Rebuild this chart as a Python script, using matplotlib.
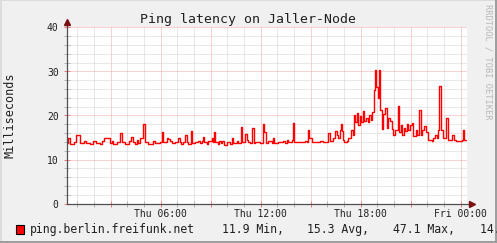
import matplotlib
matplotlib.use("Agg")
import matplotlib.pyplot as plt
from matplotlib.patches import Rectangle
from matplotlib.lines import Line2D

# ping latency, change points (hours since Thu 00:00) and values in ms
t_hours = [0.38, 0.44, 0.56, 0.80, 0.92, 1.16, 1.40, 1.52, 1.76, 1.94,
           2.12, 2.36, 2.48, 2.60, 2.96, 3.08, 3.14, 3.38, 3.56, 3.68,
           3.86, 4.10, 4.22, 4.34, 4.46, 4.58, 4.64, 4.76, 4.94, 5.06,
           5.24, 5.54, 5.66, 5.96, 6.08, 6.14, 6.38, 6.44, 6.56, 6.68,
           6.86, 7.02, 7.16, 7.22, 7.34, 7.46, 7.56, 7.64, 7.82, 7.90,
           8.06, 8.24, 8.36, 8.46, 8.54, 8.62, 8.76, 8.86, 9.06, 9.14,
           9.20, 9.26, 9.46, 9.52, 9.62, 9.70, 9.80, 9.96, 10.16, 10.26,
           10.36, 10.56, 10.66, 10.82, 10.90, 11.06, 11.16, 11.26, 11.36, 11.50,
           11.58, 11.66, 11.96, 12.12, 12.22, 12.30, 12.46, 12.66, 12.72, 12.82,
           13.06, 13.36, 13.46, 13.56, 13.66, 13.86, 13.92, 14.02, 14.66, 14.76,
           14.82, 14.92, 15.06, 15.56, 15.76, 15.96, 16.04, 16.13, 16.36, 16.46,
           16.56, 16.66, 16.76, 16.82, 16.88, 16.96, 17.00, 17.16, 17.26, 17.39,
           17.51, 17.57, 17.66, 17.76, 17.86, 17.96, 18.02, 18.12, 18.22, 18.32,
           18.42, 18.52, 18.60, 18.70, 18.80, 18.83, 18.92, 19.02, 19.08, 19.18,
           19.26, 19.36, 19.46, 19.56, 19.66, 19.76, 19.86, 19.96, 20.06, 20.24,
           20.32, 20.40, 20.50, 20.58, 20.66, 20.76, 20.86, 20.96, 21.06, 21.16,
           21.30, 21.40, 21.50, 21.60, 21.70, 21.82, 21.92, 22.02, 22.26, 22.36,
           22.46, 22.56, 22.66, 22.72, 22.82, 22.96, 23.10, 23.26, 23.50, 23.62,
           23.72, 23.86, 24.06, 24.14, 24.20, 24.30]
latency_ms = [13.8, 14.8, 13.6, 14.0, 15.5, 13.8, 14.1, 13.8, 13.5, 14.1,
              13.8, 13.5, 14.2, 14.8, 13.8, 14.2, 13.6, 14.0, 16.0, 14.0,
              13.6, 14.3, 15.2, 14.0, 13.5, 14.4, 13.8, 15.0, 18.1, 13.9,
              13.6, 14.2, 13.8, 14.0, 16.3, 14.0, 14.8, 14.6, 14.2, 13.8,
              14.0, 15.0, 14.0, 13.5, 14.0, 15.5, 14.0, 13.5, 16.5, 13.8,
              14.0, 14.2, 13.7, 14.2, 15.2, 14.0, 13.5, 14.3, 15.0, 14.0,
              16.3, 14.0, 13.6, 14.3, 13.8, 14.3, 13.3, 13.9, 13.5, 14.8,
              13.8, 14.2, 13.8, 17.3, 14.0, 15.7, 14.5, 14.0, 13.7, 17.1,
              13.8, 14.0, 13.8, 18.0, 16.2, 13.8, 14.3, 13.8, 15.0, 13.8,
              14.0, 14.2, 13.8, 14.4, 13.9, 14.4, 18.2, 13.9, 14.3, 13.9,
              16.6, 14.8, 13.9, 14.3, 13.9, 14.0, 16.0, 14.2, 15.0, 16.5,
              15.5, 15.0, 16.6, 18.0, 16.5, 14.5, 14.0, 14.3, 14.8, 16.7,
              15.6, 20.0, 18.5, 20.5, 17.8, 19.8, 18.5, 21.0, 18.8, 19.5,
              18.5, 20.0, 19.0, 20.7, 25.8, 30.4, 26.4, 23.9, 30.4, 21.2,
              17.0, 20.3, 21.7, 17.2, 19.5, 18.8, 17.0, 15.5, 16.6, 22.2,
              16.2, 17.8, 15.6, 17.1, 16.5, 18.0, 16.6, 17.8, 18.4, 15.4,
              16.6, 15.6, 21.3, 15.6, 16.6, 17.6, 16.2, 14.4, 14.2, 14.8,
              15.6, 14.8, 16.6, 26.7, 16.6, 14.9, 19.4, 14.4, 15.6, 14.4,
              14.1, 14.2, 14.4, 16.6, 14.4, 14.4]

x_major = [3, 6, 9, 12, 15, 18, 21, 24]
x_labels = ["", "Thu 06:00", "", "Thu 12:00", "", "Thu 18:00", "", "Fri 00:00"]
y_major = [0, 10, 20, 30, 40]
series_name = "ping.berlin.freifunk.net"
stat_values = [11.9, 15.3, 47.1, 14.4]
stat_names = ["Min,", "Avg,", "Max,", "Last"]

W, H = 497, 243
mono = "DejaVu Sans Mono"
plt.rcParams["font.family"] = mono

fig = plt.figure(figsize=(W / 100, H / 100), dpi=100, facecolor="#F0F0F0")


def fx(px):
    return px / W


def fy(py):
    return 1 - py / H


ax = fig.add_axes([fx(67), fy(203.5), 400 / W, 176 / H], facecolor="white")
ax.set_xlim(0.378, 24.378)
ax.set_ylim(0, 40)

ax.step(t_hours, latency_ms, where="post", color="#FF0000", lw=1.0, zorder=3)

ax.set_xticks(x_major)
ax.set_xticklabels(x_labels)
ax.set_xticks(range(1, 25), minor=True)
ax.set_yticks(y_major)
ax.set_yticks(range(0, 41, 2), minor=True)

dot = (0, (1, 1))
ax.grid(which="minor", color="#D2D2D2", ls=dot, lw=0.72, zorder=1)
ax.grid(which="major", color="#F4A4A4", ls=dot, lw=0.72, zorder=2)
ax.set_axisbelow(True)

ax.tick_params(which="major", direction="inout", length=4, width=0.72,
               color="#F08080", labelsize=7, labelcolor="#202020")
ax.tick_params(axis="y", which="major", pad=4)
ax.tick_params(axis="x", which="major", pad=2)
ax.tick_params(which="minor", direction="inout", length=4, width=0.72,
               color="#B8B8B8")

for s in ax.spines.values():
    s.set_visible(False)

# axes with arrows
ax.add_line(Line2D([0, 0], [0, 1.025], transform=ax.transAxes, color="#505050",
                   lw=0.9, clip_on=False, zorder=4))
ax.add_line(Line2D([0, 1.01], [0, 0], transform=ax.transAxes, color="#505050",
                   lw=0.9, clip_on=False, zorder=4))
ax.plot([0], [1.03], marker="^", ms=4, color="#7A1010", transform=ax.transAxes,
        clip_on=False, zorder=5)
ax.plot([1.013], [0], marker=">", ms=4, color="#7A1010", transform=ax.transAxes,
        clip_on=False, zorder=5)

fig.text(fx(248), fy(19), "Ping latency on Jaller-Node", ha="center", va="center",
         fontsize=9.5, color="#202020")
fig.text(fx(10), fy(115), "Milliseconds", rotation=90, ha="center", va="center",
         fontsize=8.5, color="#202020")
fig.text(fx(488), fy(62), "RRDTOOL / TOBI OETIKER", rotation=270, ha="center",
         va="center", fontsize=6.2, color="#B8B8B8")

# legend
fig.patches.append(Rectangle((fx(15.5), fy(234)), 8.5 / W, 9 / H, transform=fig.transFigure,
                             facecolor="#FF0000", edgecolor="black", lw=0.8))
fig.text(fx(30), fy(229.5), series_name, ha="left", va="center", fontsize=8.3,
         color="#202020")
stat_x = [221.7, 306.7, 392.7, 480]
for px, v, n in zip(stat_x, stat_values, stat_names):
    fig.text(fx(px), fy(229.5), f"{v:.1f} {n}", ha="left", va="center",
             fontsize=8.3, color="#202020")

# 3d border
fig.add_artist(Line2D([0, 1], [fy(0.5), fy(0.5)], transform=fig.transFigure, color="#DCDCDC", lw=1.4))
fig.add_artist(Line2D([fx(0.5), fx(0.5)], [0, 1], transform=fig.transFigure, color="#DCDCDC", lw=1.4))
fig.add_artist(Line2D([0, 1], [fy(242), fy(242)], transform=fig.transFigure, color="#9C9C9C", lw=1.4))
fig.add_artist(Line2D([fx(496), fx(496)], [0, 1], transform=fig.transFigure, color="#9C9C9C", lw=1.4))

fig.savefig("out.png", dpi=100, facecolor=fig.get_facecolor())
